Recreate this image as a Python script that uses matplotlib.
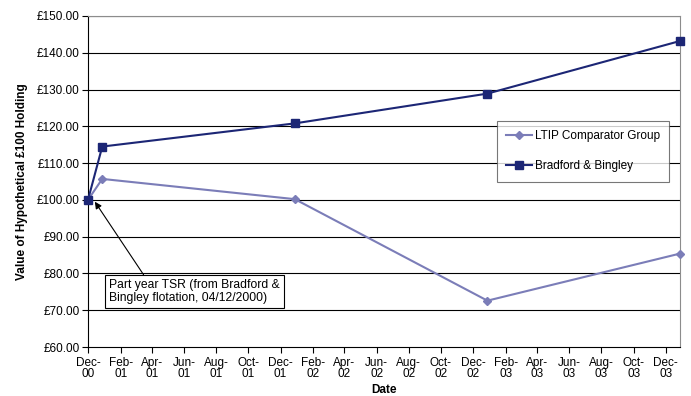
import datetime as dt

import matplotlib
matplotlib.use('Agg')
import matplotlib.dates as mdates
import matplotlib.pyplot as plt
from matplotlib.ticker import FuncFormatter

plt.rcParams['font.family'] = ['Liberation Sans', 'DejaVu Sans']

# values
dates = [dt.date(2000, 12, 4), dt.date(2000, 12, 31), dt.date(2001, 12, 31),
         dt.date(2002, 12, 31), dt.date(2003, 12, 31)]
ltip = [100.0, 105.7, 100.2, 72.6, 85.4]
bandb = [100.0, 114.5, 120.8, 128.9, 143.2]
tick_dates = [dt.date(2000 + (11 + 2 * i) // 12, (11 + 2 * i) % 12 + 1, 4)
              for i in range(19)]
tick_labels = [d.strftime('%b-\n%y') for d in tick_dates]
y_ticks = list(range(60, 151, 10))

fig = plt.figure(figsize=(6.91, 3.96), dpi=100)
ax = fig.add_axes([88 / 691, 1 - 347 / 396, (680 - 88) / 691, (347 - 16) / 396])

for y in y_ticks[1:]:
    ax.axhline(y, color='black', lw=0.8, zorder=1)

ax.plot(dates, ltip, color='#7b7db8', lw=1.5, marker='D', ms=4,
        label='LTIP Comparator Group', zorder=3, clip_on=False)
ax.plot(dates, bandb, color='#1c2675', lw=1.5, marker='s', ms=6,
        label='Bradford & Bingley', zorder=4, clip_on=False)

ax.set_xlim(dates[0], dates[-1])
ax.set_ylim(60, 150)
ax.set_yticks(y_ticks)
ax.yaxis.set_major_formatter(FuncFormatter(lambda v, p: '£%.2f' % v))
ax.set_xticks([mdates.date2num(d) for d in tick_dates])
ax.set_xticklabels(tick_labels, linespacing=0.95)
ax.tick_params(axis='both', direction='out', length=4, width=0.8,
               labelsize=8.5, colors='black', pad=2)
ax.tick_params(axis='x', pad=3)

for side in ['left', 'bottom']:
    ax.spines[side].set_color('black')
    ax.spines[side].set_linewidth(0.8)
for side in ['top', 'right']:
    ax.spines[side].set_color('#8c8c8c')
    ax.spines[side].set_linewidth(0.8)

ax.set_ylabel('Value of Hypothetical £100 Holding', fontsize=8.5,
              fontweight='bold', labelpad=6)
ax.set_xlabel('Date', fontsize=8.5, fontweight='bold', labelpad=3)

leg = ax.legend(loc='upper left', bbox_to_anchor=((497 - 88) / 592, 1 - (121 - 16) / 331),
                fontsize=8.5, frameon=True, fancybox=False, borderpad=0.8,
                labelspacing=1.5, handlelength=2.2, handletextpad=0.2,
                borderaxespad=0)
leg.get_frame().set_edgecolor('#555555')
leg.get_frame().set_linewidth(0.8)

ax.annotate('Part year TSR (from Bradford &\nBingley flotation, 04/12/2000)',
            xy=(dates[0] + dt.timedelta(days=13), 99.5),
            xytext=(dates[0] + dt.timedelta(days=40), 78.4),
            fontsize=8.7, va='top', ha='left', linespacing=1.1,
            bbox=dict(boxstyle='square,pad=0.35', fc='white', ec='black', lw=0.8),
            arrowprops=dict(arrowstyle='-|>', color='black', lw=0.8,
                            mutation_scale=10, shrinkA=0, shrinkB=0,
                            relpos=(0.22, 1.0)),
            zorder=5)

fig.savefig('out.png', dpi=100)
